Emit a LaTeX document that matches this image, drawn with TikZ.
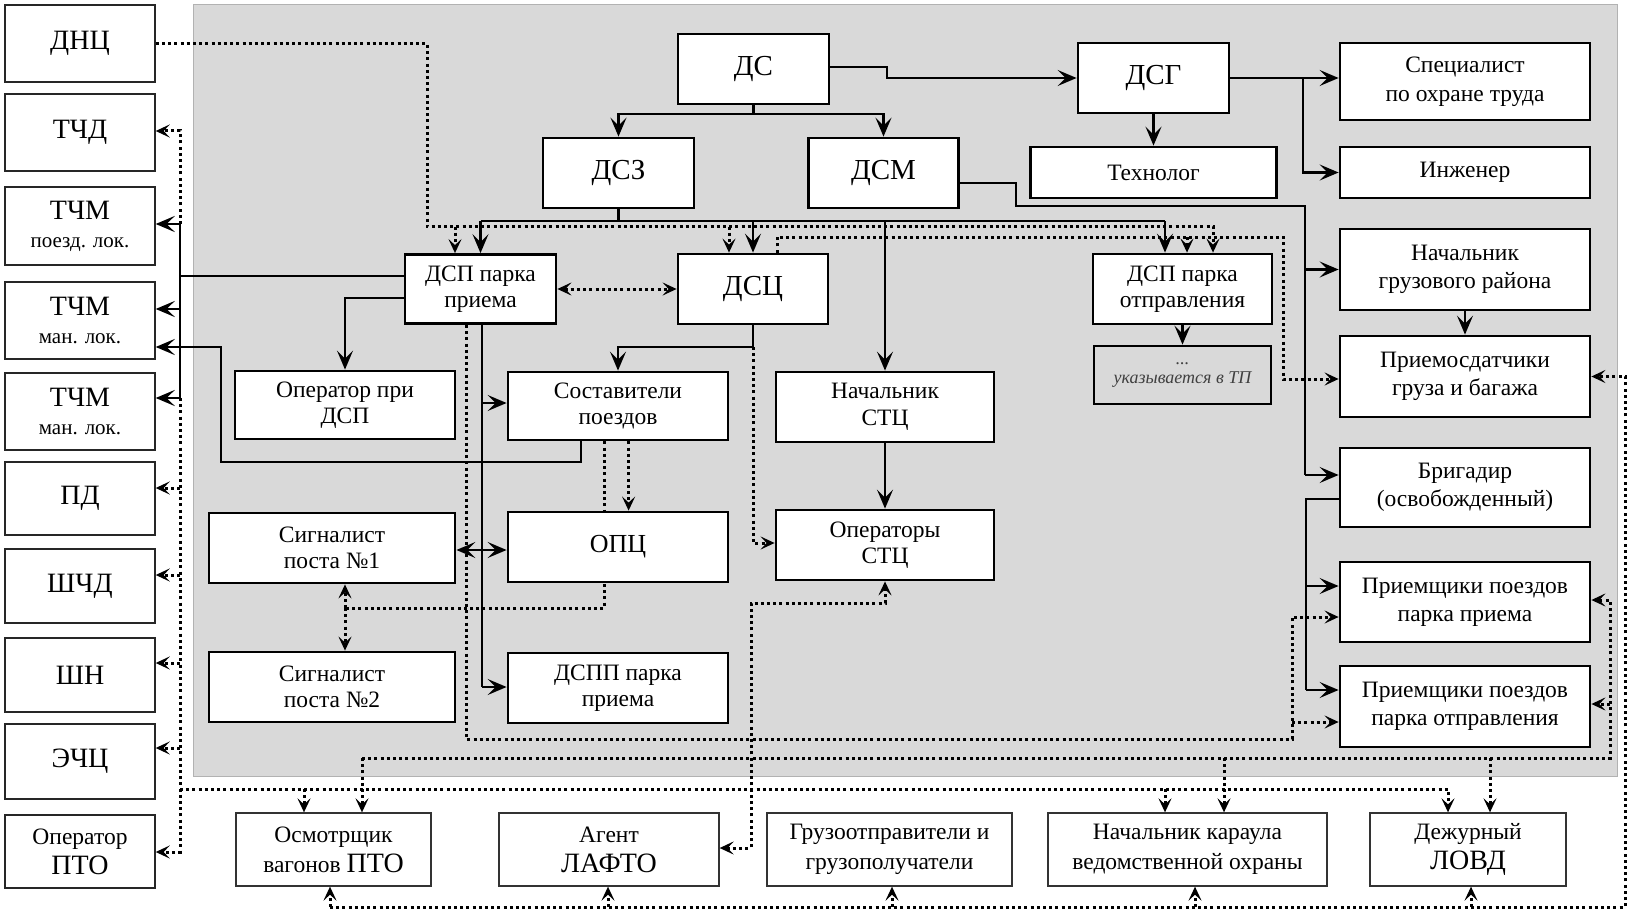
\documentclass[tikz,border=0pt]{standalone}
\usepackage{fontspec}
\setmainfont{Liberation Serif}
\newfontfamily\serifx{Liberation Serif}
\usetikzlibrary{arrows.meta}
\definecolor{greyfill}{RGB}{217,217,217}
\pgfdeclarelayer{bg}
\pgfdeclarelayer{lines}
\pgfsetlayers{bg,lines,main}
\newcommand\fBig{\fontsize{29}{30}\selectfont}
\newcommand\fCap{\fontsize{28}{30}\selectfont}
\begin{document}
\begin{tikzpicture}[x=1pt,y=-1pt,
  ibox/.style={draw=black, line width=2.8pt, fill=white, inner sep=0pt, align=center, font=\serifx\fontsize{23.5}{26.5}\selectfont},
  rbox/.style={ibox, minimum width=250pt, font=\serifx\fontsize{23.5}{28}\selectfont},
  lbox/.style={draw=black!85, line width=1.4pt, fill=white, inner sep=0pt, align=center, minimum width=150pt, font=\serifx\fontsize{21}{28}\selectfont},
  bbox/.style={draw=black!80, line width=1.3pt, fill=white, inner sep=0pt, align=center, minimum height=73pt, font=\serifx\fontsize{23.5}{30}\selectfont},
  sline/.style={line width=2.5pt},
  sarr/.style={sline, -{Stealth[length=19pt,width=16pt,inset=8pt]}},
  dline/.style={line width=3pt, dash pattern=on 3pt off 3.2pt},
  darr/.style={dline, -{Stealth[length=14pt,width=13pt,inset=6pt]}},
  ddarr/.style={dline, {Stealth[length=14pt,width=13pt,inset=6pt]}-{Stealth[length=14pt,width=13pt,inset=6pt]}}
]
\useasboundingbox (0,0) rectangle (1634,915);
\begin{pgfonlayer}{bg}
\fill[white] (0,0) rectangle (1634,915);
\filldraw[fill=greyfill, draw=black!30, line width=1pt] (193,5) rectangle (1617,776);
\end{pgfonlayer}

% ---------- left column ----------
\node[lbox, minimum height=77pt] (dnc) at (80,43.5) {\fCap ДНЦ};
\node[lbox, minimum height=77pt] (tchd) at (80,132.5) {\fCap ТЧД};
\node[lbox, minimum height=78pt] (tchm1) at (80,226) {{\fCap ТЧМ}\\поезд. лок.};
\node[lbox, minimum height=77pt] (tchm2) at (80,320.5) {{\fCap ТЧМ}\\ман. лок.};
\node[lbox, minimum height=77pt] (tchm3) at (80,411.5) {{\fCap ТЧМ}\\ман. лок.};
\node[lbox, minimum height=73pt] (pd) at (80,498.5) {\fCap ПД};
\node[lbox, minimum height=74pt] (shchd) at (80,586) {\fCap ШЧД};
\node[lbox, minimum height=74pt] (shn) at (80,675) {\fCap ШН};
\node[lbox, minimum height=75pt] (echc) at (80,761.5) {\fCap ЭЧЦ};
\node[lbox, minimum height=73pt, font=\serifx\fontsize{23.5}{30}\selectfont] (opto) at (80,851.5) {Оператор\\{\fCap ПТО}};

% ---------- inner boxes ----------
\node[ibox, minimum width=151pt, minimum height=70pt] (ds) at (753.5,69) {\fBig ДС};
\node[ibox, minimum width=151pt, minimum height=70pt] (dsz) at (618.5,173) {\fBig ДСЗ};
\node[ibox, minimum width=150pt, minimum height=70pt] (dsm) at (883.5,173) {\fBig ДСМ};
\node[ibox, minimum width=151pt, minimum height=70pt] (dsg) at (1153.5,78) {\fBig ДСГ};
\node[rbox, minimum height=77pt, font=\serifx\fontsize{23.5}{29}\selectfont] (spec) at (1465,81.5) {Специалист\\по охране труда};
\node[ibox, minimum width=246pt, minimum height=51pt] (tech) at (1153.5,172.5) {Технолог};
\node[rbox, minimum height=51pt] (eng) at (1465,172.5) {Инженер};
\node[ibox, minimum width=151pt, minimum height=69pt] (dspp) at (480.5,289) {ДСП парка\\приема};
\node[ibox, minimum width=150pt, minimum height=70pt] (dsc) at (753,289) {\fBig ДСЦ};
\node[ibox, minimum width=179pt, minimum height=70pt] (dspo) at (1182.5,289) {ДСП парка\\отправления};
\node[draw=black, line width=2.8pt, inner sep=0pt, align=center, minimum width=177pt, minimum height=58pt,
      text=black!75, font=\serifx\fontsize{18}{19}\selectfont\itshape] (tp) at (1182.5,375) {...\\указывается в ТП};
\node[rbox, minimum height=81pt] (ngr) at (1465,269.5) {Начальник\\грузового района};
\node[rbox, minimum height=81pt] (prs) at (1465,376.5) {Приемосдатчики\\груза и багажа};
\node[rbox, minimum height=79pt] (brig) at (1465,487.5) {Бригадир\\(освобожденный)};
\node[rbox, minimum height=80pt] (prp) at (1465,602) {Приемщики поездов\\парка приема};
\node[rbox, minimum height=81pt] (pro) at (1465,706.5) {Приемщики поездов\\парка отправления};
\node[ibox, minimum width=220pt, minimum height=68pt] (opd) at (345,405) {Оператор при\\ДСП};
\node[ibox, minimum width=220pt, minimum height=68pt] (sost) at (618,406) {Составители\\поездов};
\node[ibox, minimum width=218pt, minimum height=70pt] (nstc) at (885,407) {Начальник\\СТЦ};
\node[ibox, minimum width=218pt, minimum height=70pt] (ostc) at (885,545) {Операторы\\СТЦ};
\node[ibox, minimum width=246pt, minimum height=70pt] (sig1) at (332,548) {Сигналист\\поста №1};
\node[ibox, minimum width=246pt, minimum height=70pt] (sig2) at (332,687) {Сигналист\\поста №2};
\node[ibox, minimum width=220pt, minimum height=70pt] (opc) at (618,547) {\fontsize{26}{28}\selectfont ОПЦ};
\node[ibox, minimum width=220pt, minimum height=70pt] (dspp2) at (618,688) {ДСПП парка\\приема};

% ---------- bottom row ----------
\node[bbox, minimum width=195pt] (osm) at (333.5,849.5) {Осмотрщик\\вагонов {\fCap ПТО}};
\node[bbox, minimum width=220pt] (agent) at (609,849.5) {Агент\\{\fCap ЛАФТО}};
\node[bbox, minimum width=245pt] (gruz) at (889.5,849.5) {Грузоотправители и\\грузополучатели};
\node[bbox, minimum width=279pt] (nkar) at (1187.5,849.5) {Начальник караула\\ведомственной охраны};
\node[bbox, minimum width=196pt] (lovd) at (1468,849.5) {Дежурный\\{\fCap ЛОВД}};

\begin{pgfonlayer}{lines}
% ---------- solid connectors ----------
\draw[sarr] ([yshift=2pt]ds.east) -- (887,67) -- (887,78) -- (dsg.west);
\draw[sline] (ds.south) -- (753.5,114) coordinate (dsj);
\draw[sarr] (dsj) -| (dsz.north);
\draw[sarr] (dsj) -| (dsm.north);
\draw[sarr] (dsg.south) -- (tech.north);
\draw[sarr] (dsg.east) -- (spec.west |- dsg.east);
\draw[sarr] (dsg.east) -- (1303,78) |- (eng.west);
% bus under DSZ
\draw[sline] (dsz.south) -- (618.5,221);
\draw[sline] (480.5,221) -- (1165,221);
\draw[sarr] (480.5,221) -- (dspp.north);
\draw[sarr] (753,221) -- (dsc.north);
\draw[sarr] (885,221) -- (nstc.north);
\draw[sarr] (1165,221) -- ([xshift=-17.5pt]dspo.north);
% DSM to right column
\draw[sline] ([yshift=-10pt]dsm.east) -- (1016,183) -- (1016,206) -- (1305,206) -- (1305,475);
\draw[sarr] (1305,269.5) -- (ngr.west);
\draw[sarr] (1305,475) -- ([yshift=12.5pt]brig.west);
\draw[sarr] (ngr.south) -- (prs.north);
\draw[sline] ([yshift=-11.5pt]brig.west) -- (1306,499) -- (1306,690);
\draw[sarr] (1306,586) -- ([yshift=16pt]prp.west);
\draw[sarr] (1306,690) -- ([yshift=16.5pt]pro.west);
\draw[sarr] (dspo.south) -- (tp.north);
% DSP priema left
\draw[sline] ([yshift=13pt]dspp.west) -- (180,276);
\draw[sline] (180,224) -- (180,398);
\draw[sarr] (180,224) -- ([yshift=2pt]tchm1.east);
\draw[sarr] (180,309) -- ([yshift=11.5pt]tchm2.east);
\draw[sarr] (180,398) -- ([yshift=13.5pt]tchm3.east);
\draw[sarr] ([yshift=-9pt]dspp.west) -| (opd.north);
% DSP priema down
\draw[sline] ([xshift=1.5pt]dspp.south) -- (482,687);
\draw[sarr] (482,403) -- ([yshift=3pt]sost.west);
\draw[sarr] (482,550) -- ([yshift=-2pt]sig1.east);
\draw[sarr] (482,550) -- ([yshift=-3pt]opc.west);
\draw[sarr] (482,687) -- ([yshift=1pt]dspp2.west);
% DSC to sostaviteli
\draw[sarr] (dsc.south) -- (753,347) -| (sost.north);
\draw[sarr] ([xshift=-37pt]sost.south) -- (581,462) -- (221,462) -- (221,347) -- ([yshift=-26.5pt]tchm2.east);
\draw[sarr] (nstc.south) -- (ostc.north);

% ---------- dotted connectors ----------
\draw[darr] (dnc.east) -- (427,43.5) -- (427,226.5) -- (1213,226.5) -- ([xshift=30.5pt]dspo.north);
\draw[darr] (455,226.5) -- ([xshift=-25.5pt]dspp.north);
\draw[darr] (729,226.5) -- ([xshift=-24pt]dsc.north);
\draw[darr] (180,224) -- (180,131) -- ([yshift=1.5pt]tchd.east);
\draw[ddarr] (dspp.east) -- (dsc.west);
\draw[darr] ([xshift=24pt]dsc.north) -- (777,237) -- (1283,237) -- (1283,379) -- ([yshift=-2.5pt]prs.west);
\draw[darr] (1187,237) -- ([xshift=4.5pt]dspo.north);
\draw[darr] (753,347) -- (753,543) -- ([yshift=2pt]ostc.west);
\draw[darr] ([xshift=10.6pt]sost.south) -- ([xshift=10.6pt]opc.north);
\draw[dline] ([xshift=-14pt]sost.south) -- (604,608) -- (345,608);
\draw[darr] (345,608) -- ([xshift=13pt]sig1.south);
\draw[darr] (345,608) -- ([xshift=13pt]sig2.north);
\draw[darr] ([xshift=-14.5pt]dspp.south) -- (466,739) -- (1292,739) -- (1292,617) -- ([yshift=-15pt]prp.west);
\draw[darr] (1292,722) -- ([yshift=-15.5pt]pro.west);
% left dotted bus
\draw[darr] (180,398) -- (180,852) -- ([yshift=-0.5pt]opto.east);
\draw[darr] (180,488) -- ([yshift=10.5pt]pd.east);
\draw[darr] (180,575) -- ([yshift=11pt]shchd.east);
\draw[darr] (180,663) -- ([yshift=12pt]shn.east);
\draw[darr] (180,748) -- ([yshift=13.5pt]echc.east);
\draw[darr] (180,789) -- (1448,789) -- ([xshift=-20pt]lovd.north);
\draw[darr] (304,789) -- ([xshift=-29.5pt]osm.north);
\draw[darr] (1165,789) -- ([xshift=-22.5pt]nkar.north);
% line inside grey bottom
\draw[darr] (362,758) -- ([xshift=28.5pt]osm.north);
\draw[darr] (362,758) -- (1610,758) -- (1610,600) -- ([yshift=2pt]prp.east);
\draw[darr] (1610,704) -- ([yshift=2.5pt]pro.east);
\draw[darr] (1224,758) -- ([xshift=36.5pt]nkar.north);
\draw[darr] (1490,758) -- ([xshift=22pt]lovd.north);
% bottom line
\draw[darr] (330,907) -- (1625,907) -- (1625,376.5) -- (prs.east);
\draw[darr] (330,907) -- ([xshift=-3.5pt]osm.south);
\draw[darr] (608,907) -- ([xshift=-1pt]agent.south);
\draw[darr] (892,907) -- ([xshift=2.5pt]gruz.south);
\draw[darr] (1195,907) -- ([xshift=7.5pt]nkar.south);
\draw[darr] (1471,907) -- ([xshift=3pt]lovd.south);
% agent <-> operators STC
\draw[ddarr] ([yshift=1.5pt]agent.east) -- (751,848) -- (751,603) -- (885,603) -- (ostc.south);
\end{pgfonlayer}
\end{tikzpicture}
\end{document}
